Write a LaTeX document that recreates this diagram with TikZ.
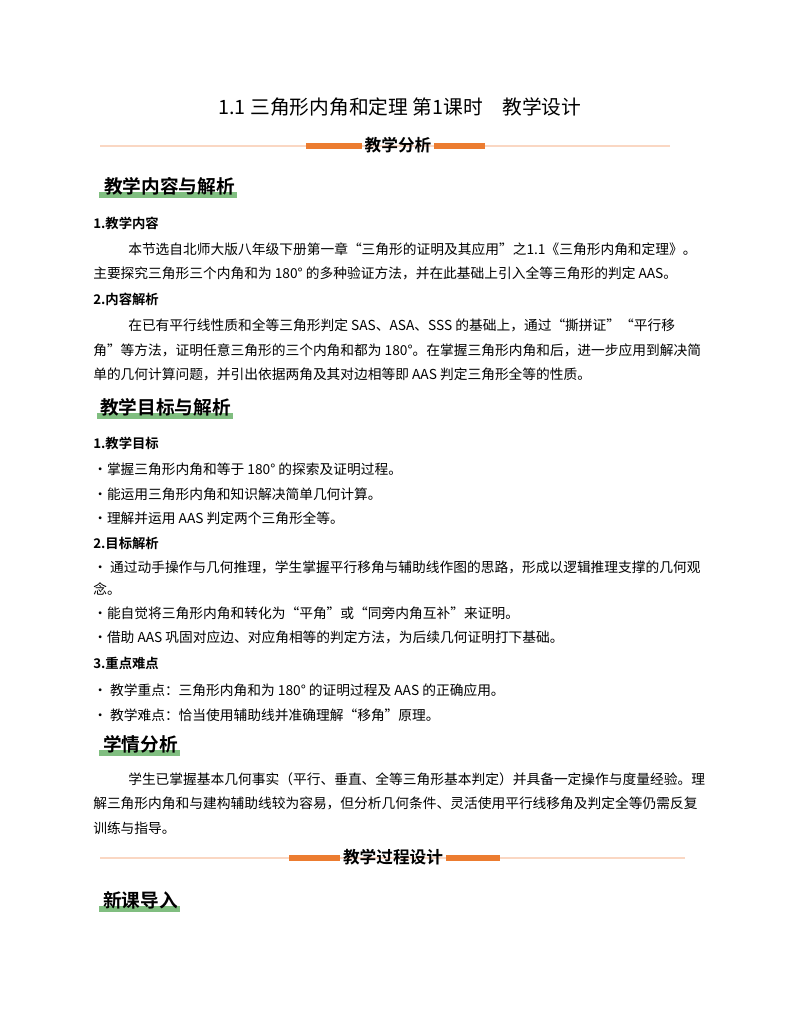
\documentclass[tikz,border=0pt]{standalone}
\usepackage{fontspec}
\newfontfamily\cjk{Noto Sans CJK SC}
\newfontfamily\cjkb{Noto Sans CJK SC Bold}
\setmainfont{Liberation Serif}
\definecolor{orng}{RGB}{236,124,48}
\definecolor{lorng}{RGB}{250,215,195}
\definecolor{grn}{RGB}{128,190,128}
\tikzset{
 body/.style={anchor=west,inner sep=0pt,font=\cjk\fontsize{10.3}{12}\selectfont},
 sub/.style={anchor=west,inner sep=0pt,font=\cjkb\fontsize{10}{12}\selectfont},
 head/.style={anchor=west,inner sep=0pt,font=\cjkb\fontsize{14}{16}\selectfont},
 divtext/.style={inner sep=0pt,font=\cjkb\fontsize{12.5}{14}\selectfont},
}
\begin{document}
\begin{tikzpicture}[x=0.75pt,y=-0.75pt]
\useasboundingbox (0,0) rectangle (800,1035);
\fill[white] (0,0) rectangle (800,1035);
\node[inner sep=0pt,font=\cjk\fontsize{14.8}{16}\selectfont] (title) at (400,107) {1.1 三角形内角和定理\ 第1课时\quad 教学设计};
% divider 1
\draw[lorng,line width=0.8pt] (100,146) -- (670,146);
\fill[orng] (306,143) rectangle (362,149);
\fill[orng] (434,143) rectangle (485,149);
\node[divtext] (d1) at (398,145) {教学分析};
% heading 1
\fill[grn] (99,192) rectangle (237,198);
\node[head] (h1) at (104,186) {教学内容与解析};
\node[sub] at (93,223) {1.教学内容};
\node[body] at (128,249) {本节选自北师大版八年级下册第一章“三角形的证明及其应用”之1.1《三角形内角和定理》。};
\node[body] at (93,273) {主要探究三角形三个内角和为 180° 的多种验证方法，并在此基础上引入全等三角形的判定 AAS。};
\node[sub] at (93,299) {2.内容解析};
\node[body] at (128,325) {在已有平行线性质和全等三角形判定 SAS、ASA、SSS 的基础上，通过“撕拼证”“平行移};
\node[body] at (93,350) {角”等方法，证明任意三角形的三个内角和都为 180°。在掌握三角形内角和后，进一步应用到解决简};
\node[body] at (93,374) {单的几何计算问题，并引出依据两角及其对边相等即 AAS 判定三角形全等的性质。};
% heading 2
\fill[grn] (97,413) rectangle (233,419);
\node[head] (h2) at (100,407) {教学目标与解析};
\node[sub] at (93,443) {1.教学目标};
\node[body] at (93,469) {•掌握三角形内角和等于 180° 的探索及证明过程。};
\node[body] at (93,494) {•能运用三角形内角和知识解决简单几何计算。};
\node[body] at (93,518) {•理解并运用 AAS 判定两个三角形全等。};
\node[sub] at (93,543) {2.目标解析};
\node[body] at (93,567) {• 通过动手操作与几何推理，学生掌握平行移角与辅助线作图的思路，形成以逻辑推理支撑的几何观};
\node[body] at (93,589) {念。};
\node[body] at (93,613) {•能自觉将三角形内角和转化为“平角”或“同旁内角互补”来证明。};
\node[body] at (93,637) {•借助 AAS 巩固对应边、对应角相等的判定方法，为后续几何证明打下基础。};
\node[sub] at (93,663) {3.重点难点};
\node[body] at (93,690) {• 教学重点：三角形内角和为 180° 的证明过程及 AAS 的正确应用。};
\node[body] at (93,715) {• 教学难点：恰当使用辅助线并准确理解“移角”原理。};
% heading 3
\fill[grn] (99,750) rectangle (180,756);
\node[head] (h3) at (103,744) {学情分析};
\node[body] at (128,779) {学生已掌握基本几何事实（平行、垂直、全等三角形基本判定）并具备一定操作与度量经验。理};
\node[body] at (93,803) {解三角形内角和与建构辅助线较为容易，但分析几何条件、灵活使用平行线移角及判定全等仍需反复};
\node[body] at (93,828) {训练与指导。};
% divider 2
\draw[lorng,line width=0.8pt] (100,858) -- (685,858);
\fill[orng] (289,855) rectangle (340,861);
\fill[orng] (446,855) rectangle (500,861);
\node[divtext] (d2) at (393,857) {教学过程设计};
% heading 4
\fill[grn] (99,906) rectangle (180,912);
\node[head] (h4) at (103,900) {新课导入};
\end{tikzpicture}
\end{document}
